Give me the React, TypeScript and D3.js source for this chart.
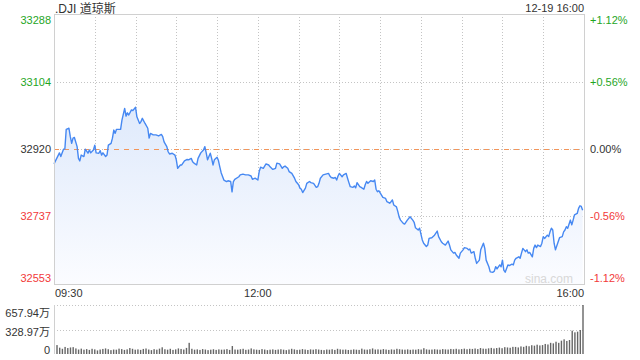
import * as d3 from 'd3'
import { useEffect, useRef } from 'react'

// header texts
const symbolName = '.DJI 道琼斯'
const stampText = '12-19 16:00'
const watermark = 'sina.com'

// axis ticks
const prevClose = 32920
const priceTicks = [33288, 33104, 32920, 32737, 32553]
const pctTicks = ['+1.12%', '+0.56%', '0.00%', '-0.56%', '-1.12%']
const timeTicks = ['09:30', '12:00', '16:00']
const volTicks = [657.94, 328.97, 0]
const volTickLabels = ['657.94万', '328.97万', '0']

// minutes since 09:30 open
const minutes = [
  0, 2, 4, 5, 7, 8, 9, 11, 12, 13, 14, 15, 17, 18, 19, 20, 22, 23, 25, 26,
  27, 29, 30, 31, 33, 34, 35, 36, 38, 39, 40, 42, 43, 44, 45, 46, 49, 50, 52, 53,
  54, 55, 57, 58, 60, 61, 63, 64, 65, 67, 69, 70, 71, 73, 75, 77, 79, 80, 81, 83,
  84, 85, 87, 89, 90, 91, 93, 94, 96, 98, 99, 101, 102, 103, 105, 106, 108, 110, 111, 112,
  113, 115, 116, 117, 118, 120, 121, 122, 123, 125, 127, 128, 130, 131, 132,
  133, 136, 137, 139, 141, 143, 145, 146, 148, 150, 151, 152, 154, 156, 158, 159, 161, 163, 164, 166,
  168, 169, 170, 172, 173, 175, 177, 178, 180, 181, 182, 183, 185, 186, 188, 189, 191, 193, 194, 195,
  196, 198, 200, 202, 203, 204, 206, 207, 208, 209, 210, 212, 213, 215, 216, 217, 218, 220, 221, 222,
  223, 225, 226, 228, 229, 230, 231, 233, 235, 236, 237, 238, 239, 241, 242, 244, 245, 247, 248, 249,
  250, 252, 253, 254, 255, 257, 258,
  260, 262, 264, 265, 266, 268, 269, 271, 272, 274, 275, 276, 278, 280, 282, 283, 285, 286, 288, 290,
  291, 292, 294, 295, 296, 298, 299, 301, 302, 304, 305, 306, 307, 309, 310, 311, 313, 314, 316, 317,
  318, 320, 321, 323, 324, 325, 326, 328, 329, 330, 331, 332, 334, 335, 337, 338, 339, 340, 342, 343,
  344, 345, 347, 348, 349, 350, 352, 353, 354, 355, 356, 358, 359, 360, 361, 363, 364, 365, 366, 367,
  368, 369, 371, 372, 374, 375, 376, 377, 378, 380, 381, 382, 383, 385, 386, 387, 388, 389,
]

const prices = [
  32880, 32895, 32910, 32900, 32920, 32921, 32974, 32977, 32954, 32936,
  32950, 32952, 32927, 32895, 32888, 32904, 32900, 32920, 32909, 32918,
  32910, 32918, 32931, 32910, 32909, 32916, 32904, 32910, 32900, 32904,
  32931, 32936, 32950, 32972, 32963, 32974, 32974, 32999, 33031, 33010,
  33019, 33013, 33027, 33025, 33034, 33008, 32990, 32995, 33004, 32990,
  32977, 32950, 32963, 32959, 32959, 32956, 32960, 32954, 32940, 32927,
  32913, 32907, 32909, 32904, 32891, 32868, 32877, 32877, 32888, 32892,
  32891, 32895, 32886, 32882, 32877, 32895, 32910, 32918, 32927, 32910,
  32891, 32909, 32895, 32877, 32891, 32898, 32889, 32872, 32856, 32836,
  32832, 32834, 32832, 32804, 32832,
  32838, 32845, 32850, 32852, 32850, 32850, 32847, 32838, 32841, 32836,
  32859, 32871, 32868, 32880, 32877, 32872, 32865, 32868, 32882, 32880,
  32868, 32872, 32874, 32868, 32859, 32854, 32841, 32832, 32823, 32814,
  32811, 32802, 32814, 32827, 32832, 32829, 32827, 32816, 32818, 32827,
  32841, 32850, 32852, 32854, 32847, 32843, 32841, 32843, 32836, 32847,
  32854, 32845, 32850, 32854, 32841, 32829, 32818, 32816, 32820, 32815,
  32829, 32818, 32816, 32811, 32823, 32832, 32827, 32834, 32832, 32836,
  32811, 32804, 32807, 32795, 32789, 32786, 32777, 32773, 32777, 32782,
  32768, 32763, 32750, 32735, 32727, 32718, 32716,
  32727, 32736, 32727, 32721, 32706, 32700, 32705, 32673, 32664, 32655,
  32659, 32677, 32679, 32686, 32697, 32682, 32668, 32664, 32659, 32670,
  32659, 32646, 32637, 32639, 32632, 32623, 32637, 32646, 32652, 32650,
  32646, 32648, 32637, 32641, 32623, 32609, 32618, 32646, 32664, 32650,
  32618, 32600, 32586, 32585, 32588, 32600, 32594, 32605, 32600, 32618,
  32591, 32585, 32605, 32603, 32607, 32605, 32618, 32623, 32627, 32623,
  32637, 32650, 32641, 32646, 32637, 32639, 32627, 32650, 32659, 32652,
  32659, 32655, 32664, 32682, 32677, 32686, 32682, 32695, 32705, 32700,
  32664, 32646, 32668, 32679, 32682, 32695, 32700, 32709, 32705, 32727,
  32714, 32727, 32741, 32745, 32759, 32766, 32764, 32754,
]

// volume per 2 minutes, in 万
const volumes = [
  120, 85, 70, 95, 80, 88, 92, 75, 60, 72,
  58, 66, 55, 70, 62, 48, 60, 68, 75, 64,
  52, 60, 58, 72, 66, 55, 62, 80, 70, 58,
  62, 55, 68, 74, 60, 52, 65, 58, 72, 90,
  64, 58, 70, 55, 62, 75, 68, 60, 82, 150,
  70, 58, 62, 55, 66, 60, 52, 58, 64, 55,
  62, 58, 60, 66, 55, 107, 60, 58, 64, 70,
  56, 60, 75, 62, 58, 55, 66, 60, 52, 58,
  62, 55, 60, 64, 58, 52, 60, 70, 62, 55,
  58, 66, 60, 54, 62, 58, 65, 60, 55, 52,
  60, 58, 64, 55, 70, 62, 58, 60, 54, 56,
  62, 58, 55, 72, 60, 58, 64, 75, 60, 62,
  58, 66, 60, 55, 62, 58, 70, 64, 60, 58,
  62, 56, 60, 58, 65, 60, 78, 62, 58, 60,
  64, 60, 58, 66, 62, 60, 68, 64, 70, 62,
  66, 72, 64, 70, 68, 74, 66, 80, 72, 70,
  76, 82, 74, 80, 86, 78, 92, 88, 84, 96,
  95, 88, 102, 96, 110, 104, 118, 112, 125, 115,
  120, 135, 128, 150, 143, 165, 150, 179, 197, 175,
  188, 313, 291, 300, 322, 657.94,
]

const W = 640
const H = 360
const plot = { left: 54, right: 584, top: 14, bottom: 284 }
const vol = { top: 305, bottom: 354 }
const font = 'Arial, "Liberation Sans", "Noto Sans CJK SC", sans-serif'
const green = '#1fa61f'
const red = '#f23a3a'
const dark = '#333'

// crisp 1px lines
const crisp = (v: number) => Math.round(v) + 0.5

const App = () => {
  const ref = useRef<SVGSVGElement>(null)

  useEffect(() => {
    const svg = d3.select(ref.current)
    svg.selectAll('*').remove()

    const x = d3.scaleLinear().domain([0, 390]).range([plot.left, plot.right])
    const y = d3
      .scaleLinear()
      .domain([priceTicks[priceTicks.length - 1], priceTicks[0]])
      .range([plot.bottom, plot.top])
    const yVol = d3.scaleLinear().domain([0, volTicks[0]]).range([vol.bottom, vol.top])

    // gradient for the area
    const defs = svg.append('defs')
    const grad = defs
      .append('linearGradient')
      .attr('id', 'areaFill')
      .attr('gradientUnits', 'userSpaceOnUse')
      .attr('x1', 0)
      .attr('x2', 0)
      .attr('y1', plot.top)
      .attr('y2', plot.bottom)
    grad.append('stop').attr('offset', '0%').attr('stop-color', '#d0e0fa')
    grad.append('stop').attr('offset', '100%').attr('stop-color', '#fbfcff')

    // vertical grid every 30 min
    const gridMinutes = d3.range(30, 390, 30)
    svg
      .append('g')
      .selectAll('line')
      .data(gridMinutes)
      .enter()
      .append('line')
      .attr('x1', (d) => crisp(x(d)))
      .attr('x2', (d) => crisp(x(d)))
      .attr('y1', plot.top)
      .attr('y2', plot.bottom)
      .attr('stroke', '#c4c4c4')
      .attr('stroke-dasharray', '1,2')

    // horizontal grid
    svg
      .append('g')
      .selectAll('line')
      .data(priceTicks.slice(1, -1))
      .enter()
      .append('line')
      .attr('x1', plot.left)
      .attr('x2', plot.right)
      .attr('y1', (d) => crisp(y(d)))
      .attr('y2', (d) => crisp(y(d)))
      .attr('stroke', '#c4c4c4')
      .attr('stroke-dasharray', '1,2')

    // area + line
    const pts = minutes.map((m, i) => [m, prices[i]] as [number, number])
    svg
      .append('path')
      .datum(pts)
      .attr('fill', 'url(#areaFill)')
      .attr(
        'd',
        d3
          .area<[number, number]>()
          .x((d) => x(d[0]))
          .y0(plot.bottom)
          .y1((d) => y(d[1]))
      )

    // prev close line
    svg
      .append('line')
      .attr('x1', plot.left)
      .attr('x2', plot.right)
      .attr('y1', crisp(y(prevClose)))
      .attr('y2', crisp(y(prevClose)))
      .attr('stroke', '#f2955a')
      .attr('stroke-dasharray', '5,5')

    svg
      .append('path')
      .datum(pts)
      .attr('fill', 'none')
      .attr('stroke', '#4688f2')
      .attr('stroke-width', 1.4)
      .attr('stroke-linejoin', 'round')
      .attr(
        'd',
        d3
          .line<[number, number]>()
          .x((d) => x(d[0]))
          .y((d) => y(d[1]))
      )

    // frame
    svg
      .append('rect')
      .attr('x', plot.left + 0.5)
      .attr('y', plot.top + 0.5)
      .attr('width', plot.right - plot.left)
      .attr('height', plot.bottom - plot.top)
      .attr('fill', 'none')
      .attr('stroke', '#d0d0d0')

    // watermark
    svg
      .append('text')
      .attr('x', 573)
      .attr('y', 283)
      .attr('text-anchor', 'end')
      .style('font-family', font)
      .style('font-size', '12px')
      .style('fill', '#d8d8d8')
      .text(watermark)

    // price labels (left) + percent labels (right)
    const labelY = (i: number, n: number, v: number) =>
      i === 0 ? v + 10 : i === n - 1 ? v - 2 : v + 4
    const labelColor = (i: number) => (i < 2 ? green : i === 2 ? dark : red)
    priceTicks.forEach((p, i) => {
      svg
        .append('text')
        .attr('x', 51)
        .attr('y', labelY(i, priceTicks.length, y(p)))
        .attr('text-anchor', 'end')
        .style('font-family', font)
        .style('font-size', '11px')
        .style('fill', labelColor(i))
        .text(p)
      svg
        .append('text')
        .attr('x', 590)
        .attr('y', labelY(i, priceTicks.length, y(p)))
        .style('font-family', font)
        .style('font-size', '11px')
        .style('fill', labelColor(i))
        .text(pctTicks[i])
    })

    // title & time stamp
    svg
      .append('text')
      .attr('x', 55)
      .attr('y', 13)
      .style('font-family', font)
      .style('font-size', '12px')
      .style('fill', dark)
      .text(symbolName)
    svg
      .append('text')
      .attr('x', plot.right)
      .attr('y', 12)
      .attr('text-anchor', 'end')
      .style('font-family', font)
      .style('font-size', '11px')
      .style('fill', dark)
      .text(stampText)

    // time axis labels
    const timePos = [0, 150, 390]
    const anchors = ['start', 'middle', 'end']
    timeTicks.forEach((t, i) => {
      svg
        .append('text')
        .attr('x', i === 0 ? x(timePos[i]) + 1 : x(timePos[i]))
        .attr('y', 297)
        .attr('text-anchor', anchors[i])
        .style('font-family', font)
        .style('font-size', '11px')
        .style('fill', dark)
        .text(t)
    })

    // volume panel
    svg
      .append('g')
      .selectAll('line')
      .data(volTicks.slice(0, 2))
      .enter()
      .append('line')
      .attr('x1', plot.left)
      .attr('x2', plot.right)
      .attr('y1', (d) => crisp(yVol(d)))
      .attr('y2', (d) => crisp(yVol(d)))
      .attr('stroke', '#c4c4c4')
      .attr('stroke-dasharray', '1,2')
    svg
      .append('line')
      .attr('x1', plot.left + 0.5)
      .attr('x2', plot.left + 0.5)
      .attr('y1', vol.top)
      .attr('y2', vol.bottom)
      .attr('stroke', '#d0d0d0')

    const xBar = d3
      .scaleLinear()
      .domain([0, volumes.length - 1])
      .range([plot.left + 3, plot.right - 1])
    svg
      .append('g')
      .selectAll('rect')
      .data(volumes)
      .enter()
      .append('rect')
      .attr('x', (_, i) => xBar(i) - 0.7)
      .attr('width', 1.4)
      .attr('y', (d) => yVol(d))
      .attr('height', (d) => vol.bottom - yVol(d))
      .attr('fill', '#666')

    const volLabelY = [317, 336, 354]
    volTickLabels.forEach((t, i) => {
      svg
        .append('text')
        .attr('x', 50)
        .attr('y', volLabelY[i])
        .attr('text-anchor', 'end')
        .style('font-family', font)
        .style('font-size', '11px')
        .style('fill', dark)
        .text(t)
    })
  }, [])

  return (
    <svg
      ref={ref}
      width={W}
      height={H}
      style={{ position: 'absolute', left: 0, top: 0, background: '#fff' }}
    />
  )
}

export default App
